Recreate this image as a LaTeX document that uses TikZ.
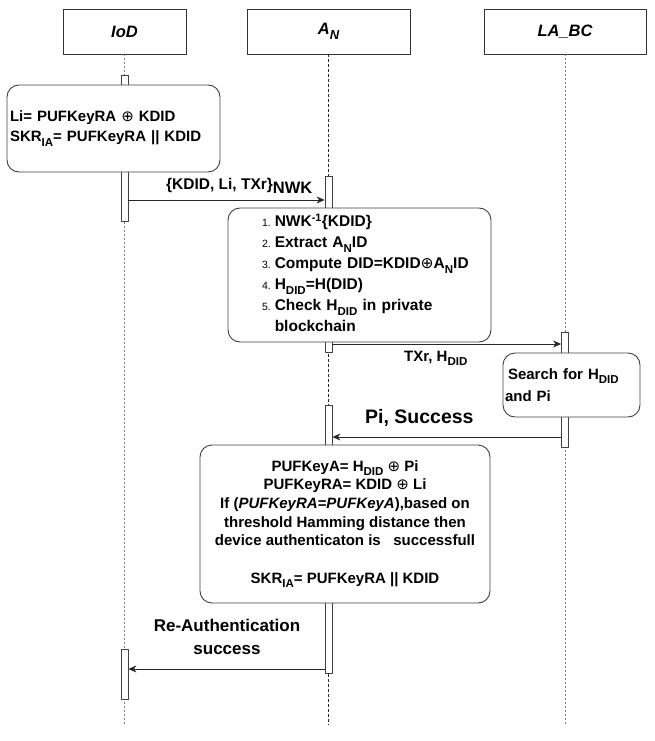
\documentclass[tikz,border=0pt]{standalone}
\usepackage{fontspec}
\setmainfont{Liberation Sans}
\newfontfamily\symfont{DejaVu Sans}
\usetikzlibrary{positioning,arrows.meta}

\newcommand{\fs}[2]{\fontsize{#1}{#2}\selectfont}
\newcommand{\sbs}[1]{\raisebox{-.3em}{\fs{11.5}{12}#1}}
\newcommand{\xor}{{\symfont\mdseries\upshape ⊕}}
\newcommand{\itemno}[1]{{\fs{10.5}{12}\mdseries #1}}

\begin{document}
\begin{tikzpicture}[x=1pt, y=-1pt, line join=round,
  head/.style={draw=black!80, line width=0.9pt, minimum height=45, inner sep=0,
    font=\fs{16.5}{19}\bfseries\itshape},
  life/.style={draw=black!50, line width=1pt, dash pattern=on 2pt off 2pt},
  actbar/.style={draw=black!75, fill=white, line width=0.8pt, minimum width=7,
    inner sep=0, anchor=north},
  calcbox/.style={draw=black!75, fill=white, rounded corners=12, line width=0.9pt,
    inner sep=0, font=\fs{15}{20}\bfseries},
  msg/.style={draw=black!85, line width=0.8pt,
    -{Stealth[length=8pt,width=7pt,inset=2.5pt]}},
  lbl/.style={inner sep=0, font=\fs{15}{18}\bfseries}]
\useasboundingbox (0,0) rectangle (655,741);

% Participants
\foreach \nm/\x/\w/\txt in {iod/124.5/123/IoD, an/328.5/163/{A\raisebox{-.3em}{\fs{13}{13}N}}, labc/565/162/{LA\_BC}}
  \node[head, minimum width=\w] (\nm) at (\x,31.5) {\txt};

% Lifelines
\coordinate (lifeend) at (0,725);
\foreach \nm in {iod,labc}
  \draw[life] (\nm.south) -- (\nm.south |- lifeend);
\draw[life, draw=black!85, line width=0.7pt, dash pattern=on 3pt off 2pt] (an.south) -- (an.south |- lifeend);

% Activation bars
\node[actbar, minimum height=146] (iodact1) at (iod.south |- 0,75) {};
\node[actbar, minimum height=50]  (iodact2) at (iod.south |- 0,649) {};
\node[actbar, minimum height=176] (anact1)  at (an.south |- 0,176) {};
\node[actbar, minimum height=268] (anact2)  at (an.south |- 0,405) {};
\node[actbar, minimum height=115] (labcact) at (labc.south |- 0,332) {};

% Computation boxes
\node[calcbox, minimum width=213, minimum height=87, text width=207, align=left]
  (iodcalc) at (113.5,128.5) {Li= PUFKeyRA \xor{} KDID\\SKR\sbs{IA}= PUFKeyRA || KDID};
\node[calcbox, minimum width=263, minimum height=134, text width=263, align=left,
  font=\fs{15.5}{21}\bfseries] (ancalc) at (359.5,275) {%
  \begin{tabular}{@{\hspace{34pt}}r@{\hspace{4pt}}l@{}}
  \itemno{1.} & NWK\textsuperscript{-1}\{KDID\}\\
  \itemno{2.} & Extract A\sbs{N}ID\\
  \itemno{3.} & Compute DID=KDID\xor A\sbs{N}ID\\
  \itemno{4.} & H\sbs{DID}=H(DID)\\
  \itemno{5.} & Check H\sbs{DID} in private\\
              & blockchain
  \end{tabular}};
\node[calcbox, minimum width=137, minimum height=64, text width=133, align=left,
  font=\fs{15}{22}\bfseries] (search) at (571.5,385) {\hspace*{3pt}Search for H\sbs{DID}\\and Pi};
\node[calcbox, minimum width=290, minimum height=158, align=center,
  font=\fs{15}{18.7}\bfseries] (ancheck) at (345,524) {%
  PUFKeyA= H\sbs{DID} \xor{} Pi\\
  PUFKeyRA= KDID \xor{} Li\\
  If (\textit{PUFKeyRA=PUFKeyA}),based on\\
  threshold Hamming distance then\\
  device authenticaton is \ \ successfull\\[18.7pt]
  SKR\sbs{IA}= PUFKeyRA || KDID};

% Messages
\coordinate (row1) at (0,200);
\coordinate (row2) at (0,344);
\coordinate (row3) at (0,437);
\coordinate (row4) at (0,669);
\draw[msg] (iodact1.east |- row1) -- (anact1.west |- row1);
\node[lbl, anchor=base west, font=\fs{15.5}{18}\bfseries] (m1lbl) at (166,189)
  {\{KDID, Li, TXr\}\raisebox{-4pt}{\fs{16.5}{16}NWK}};
\draw[msg] (anact1.east |- row2) -- (labcact.west |- row2);
\node[lbl, anchor=base west] (m2lbl) at (404,361) {TXr, H\sbs{DID}};
\draw[msg] (labcact.west |- row3) -- (anact2.east |- row3);
\node[lbl, anchor=base west, font=\fs{19.5}{22}\bfseries] (m3lbl) at (365,423) {Pi, Success};
\draw[msg] (anact2.west |- row4) -- (iodact2.east |- row4);
\node[lbl, align=center, font=\fs{17}{22.5}\bfseries] (m4lbl) at (227,637) {Re-Authentication\\success};
\end{tikzpicture}
\end{document}
